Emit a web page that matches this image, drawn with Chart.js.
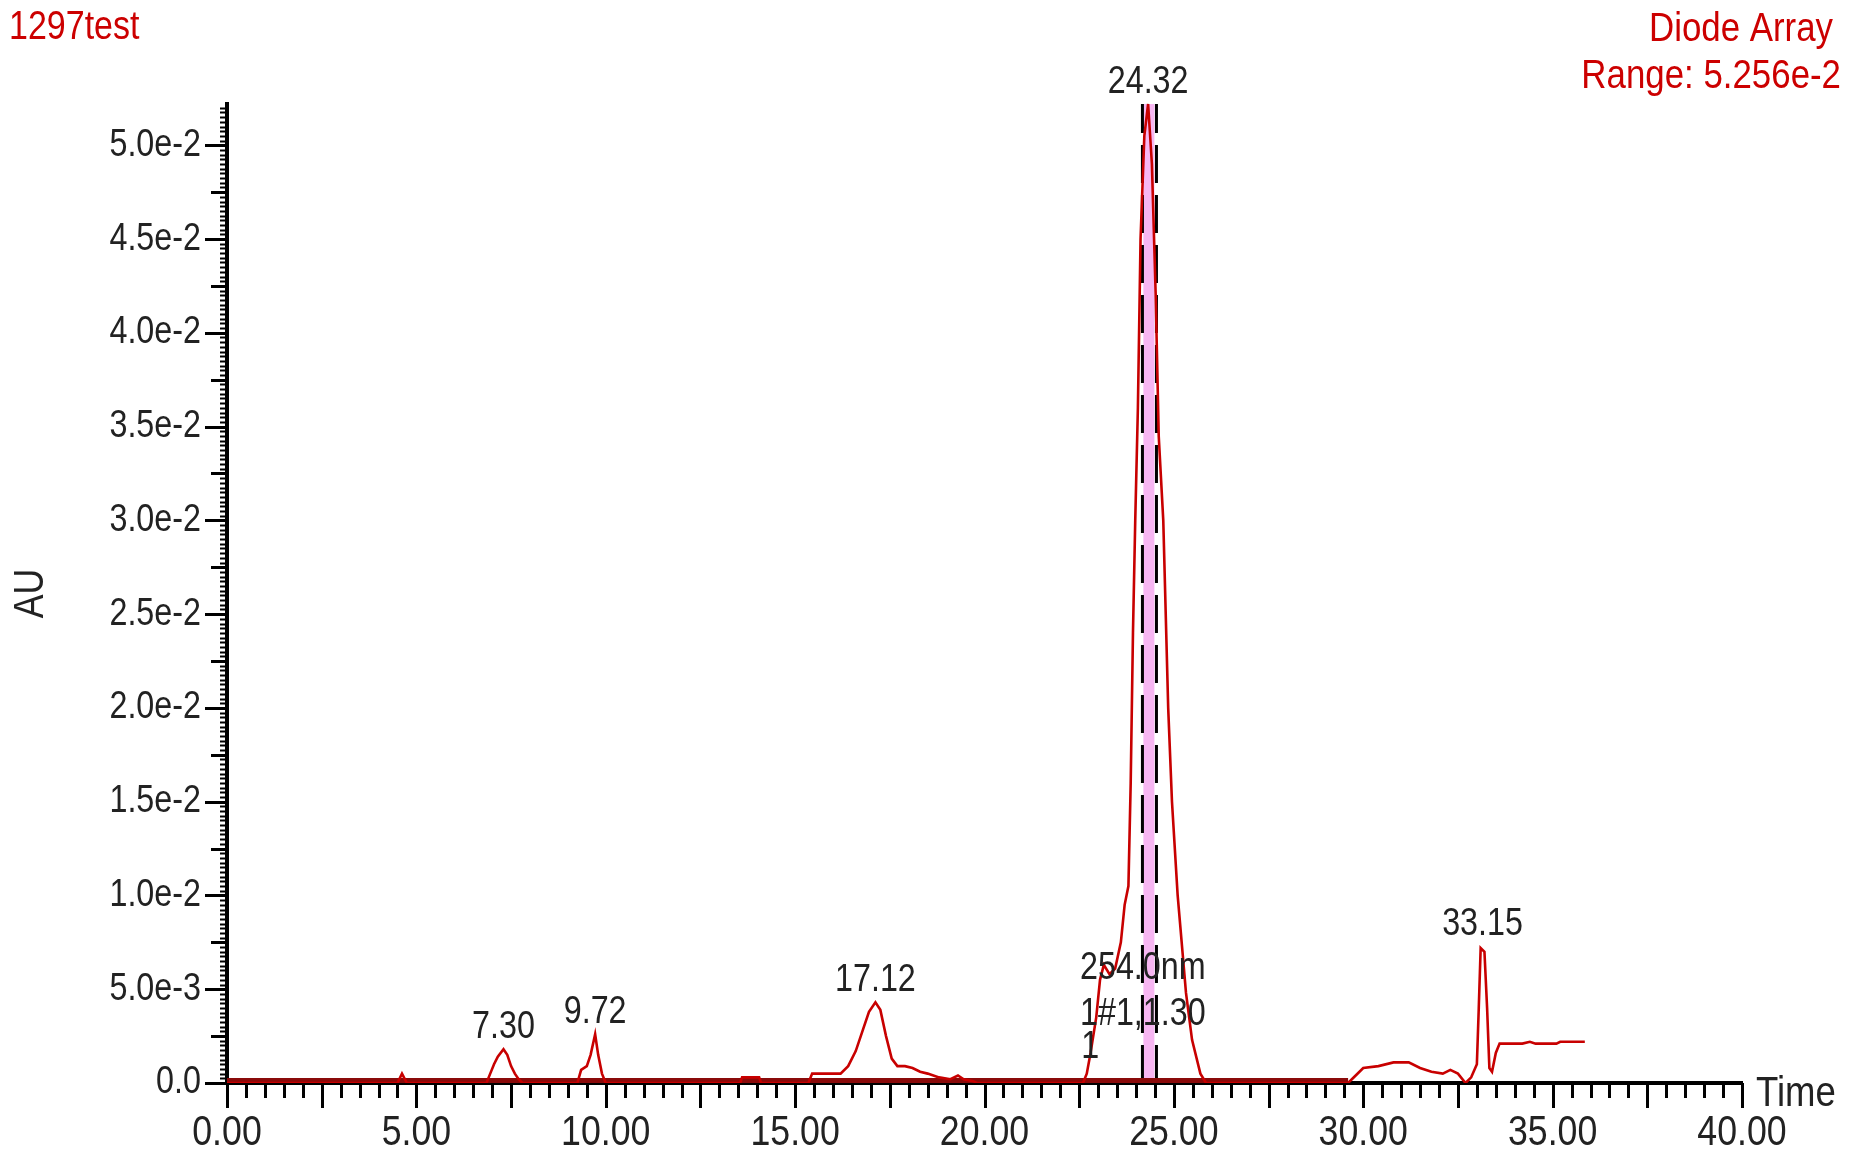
<!DOCTYPE html>
<html>
<head>
<meta charset="utf-8">
<script src="https://cdn.jsdelivr.net/npm/chart.js@4.4.1/dist/chart.umd.min.js"></script>
<style>
  html, body { margin: 0; padding: 0; background: #fff; overflow: hidden; }
  #wrap { width: 1854px; height: 1159px; position: relative; }
</style>
</head>
<body>
<div id="wrap"><canvas id="c"></canvas></div>
<script>
// ---------- data ----------
const times = [
  0.00, 4.50, 4.62, 4.75,
  6.85, 6.95, 7.05, 7.15, 7.30, 7.40, 7.50, 7.60, 7.70, 7.80,
  9.25, 9.35, 9.50, 9.60, 9.72, 9.80, 9.90, 10.00,
  13.55, 13.60, 14.05, 14.10,
  15.35, 15.45, 15.95, 16.20, 16.40, 16.60, 16.80, 16.95, 17.12, 17.25, 17.40, 17.55, 17.70, 17.90,
  18.10, 18.30, 18.50, 18.80, 19.10, 19.30, 19.45, 19.70, 19.80,
  22.60, 22.70, 22.80, 22.95, 23.05, 23.15, 23.30, 23.45, 23.60, 23.70, 23.80, 23.86, 23.92, 23.98,
  24.05, 24.12, 24.22, 24.32, 24.42, 24.52, 24.60, 24.72, 24.85, 24.95, 25.10, 25.32, 25.48, 25.70, 25.85,
  29.60, 29.80, 30.00, 30.40, 30.80, 31.20, 31.50, 31.80, 32.10, 32.30, 32.50, 32.70, 32.85,
  33.00, 33.05, 33.10, 33.20, 33.27, 33.33, 33.40, 33.50, 33.60, 34.20, 34.40, 34.55, 35.10, 35.20, 35.85
];
const absorbance = [
  0, 0, 0.0005, 0,
  0, 0.0005, 0.0010, 0.0014, 0.0018, 0.0015, 0.0009, 0.0005, 0.0002, 0,
  0, 0.0007, 0.0009, 0.0015, 0.0026, 0.0015, 0.0005, 0,
  0, 0.0003, 0.0003, 0,
  0, 0.0005, 0.0005, 0.0005, 0.0009, 0.0017, 0.0029, 0.0038, 0.0043, 0.0039, 0.0025, 0.0013, 0.0009, 0.0009,
  0.0008, 0.0006, 0.0005, 0.0003, 0.0002, 0.0004, 0.0002, 0.0001, 0,
  0, 0.0005, 0.0016, 0.0035, 0.0055, 0.0063, 0.0058, 0.0061, 0.0075, 0.0095, 0.0105, 0.0160, 0.0240, 0.0300,
  0.0360, 0.0450, 0.0505, 0.0522, 0.0490, 0.0420, 0.0345, 0.0300, 0.0200, 0.0150, 0.0100, 0.0048, 0.0023, 0.0005, 0,
  0, 0.0004, 0.0008, 0.0009, 0.0011, 0.0011, 0.0008, 0.0006, 0.0005, 0.0007, 0.0005, 0.0000, 0.0003,
  0.0010, 0.0040, 0.0072, 0.0070, 0.0040, 0.0008, 0.0006, 0.0016, 0.0021, 0.0021, 0.0022, 0.0021, 0.0021, 0.0022, 0.0022
];
// dark baseline drawn under the trace
const baselineTimes = [0.00, 29.60];
const baselineValues = [0, 0];

// peak annotations
const peakTimes = [7.30, 9.72, 17.12, 24.32, 33.15];
const peakValues = [0.0018, 0.0026, 0.0043, 0.0522, 0.0073];
const peakLabels = ['7.30', '9.72', '17.12', '24.32', '33.15'];

// integration markers on main peak
const markerTimes = [24.17, 24.54];
const markerTop = 0.0522;
const bandTime = 24.34;

// overlapping detector notes
const noteTexts = ['254.0nm', '1#1,1.30', '1'];
const noteTimes = [24.18, 24.18, 22.79];
const noteValues = [0.00555, 0.0031, 0.00133];

// axes
const xTickValues = [0, 5, 10, 15, 20, 25, 30, 35, 40];
const xTickLabels = ['0.00', '5.00', '10.00', '15.00', '20.00', '25.00', '30.00', '35.00', '40.00'];
const yTickValues = [0, 0.005, 0.01, 0.015, 0.02, 0.025, 0.03, 0.035, 0.04, 0.045, 0.05];
const yTickLabels = ['0.0', '5.0e-3', '1.0e-2', '1.5e-2', '2.0e-2', '2.5e-2', '3.0e-2', '3.5e-2', '4.0e-2', '4.5e-2', '5.0e-2'];

const titleLeft = '1297test';
const titleRight1 = 'Diode Array';
const titleRight2 = 'Range: 5.256e-2';
const xAxisName = 'Time';
const yAxisName = 'AU';

// ---------- chart ----------
const FONT = "'Liberation Sans', Arial, sans-serif";
const RED = '#cc0000';
const CONDENSE = 0.85;

const canvas = document.getElementById('c');
const ctx2d = canvas.getContext('2d');
// draw all text horizontally condensed around its anchor (the original uses a narrow font)
const origFillText = ctx2d.fillText.bind(ctx2d);
ctx2d.fillText = function (text, x, y, maxWidth) {
  this.save();
  this.translate(x, y);
  this.scale(CONDENSE, 1);
  origFillText(text, 0, 0);
  this.restore();
};

const trace = times.map((t, i) => ({ x: t, y: absorbance[i] }));
const baseline = baselineTimes.map((t, i) => ({ x: t, y: baselineValues[i] }));

const datasets = [
  { label: 'trace', data: trace, borderColor: '#c80000', borderWidth: 2.6, pointRadius: 0, tension: 0, order: 0,
    clip: { left: 2, right: 2, top: 4, bottom: 0 } },
  { label: 'baseline', data: baseline, borderColor: '#8a0a0a', borderWidth: 10, pointRadius: 0, order: 1,
    clip: { left: 0, right: 2, top: 6, bottom: 0 } },
  { label: 'markL', data: [{ x: markerTimes[0], y: 0 }, { x: markerTimes[0], y: markerTop }], borderColor: '#000',
    borderWidth: 3, borderDash: [38, 12], pointRadius: 0, order: 2 },
  { label: 'markR', data: [{ x: markerTimes[1], y: 0 }, { x: markerTimes[1], y: markerTop }], borderColor: '#000',
    borderWidth: 3, borderDash: [38, 12], pointRadius: 0, order: 3 },
  { label: 'band', data: [{ x: bandTime, y: 0 }, { x: bandTime, y: markerTop }], borderColor: '#f7b6f2',
    borderWidth: 11, pointRadius: 0, order: 4 }
];

const deco = {
  id: 'deco',
  beforeDraw(chart) {
    const c = chart.ctx;
    c.save();
    c.fillStyle = '#fff';
    c.fillRect(0, 0, chart.width, chart.height);
    c.restore();
  },
  afterDraw(chart) {
    const c = chart.ctx;
    const x = chart.scales.x, y = chart.scales.y;
    const area = chart.chartArea;
    c.save();
    c.strokeStyle = '#000';
    // x ticks: every 0.5, longer every 2.5
    for (let k = 0; k <= 80; k++) {
      const px = Math.round(x.getPixelForValue(k * 0.5)) + 0.5;
      const len = (k % 5 === 0) ? 25 : 15;
      c.lineWidth = 3;
      c.beginPath(); c.moveTo(px, area.bottom); c.lineTo(px, area.bottom + len); c.stroke();
    }
    // y ticks: every 0.00025, medium every 0.0025, long every 0.005
    for (let k = 0; k * 0.00025 <= y.max + 1e-9; k++) {
      const py = Math.round(y.getPixelForValue(k * 0.00025)) + 0.5;
      let len = 7, w = 2;
      if (k % 20 === 0) { len = 22; w = 3; } else if (k % 10 === 0) { len = 16; w = 3; }
      c.lineWidth = w;
      c.beginPath(); c.moveTo(area.left, py); c.lineTo(area.left - len, py); c.stroke();
    }
    // header texts
    c.fillStyle = RED;
    c.textBaseline = 'alphabetic';
    c.font = '40px ' + FONT;
    c.textAlign = 'left';
    c.fillText(titleLeft, 9, 39);
    c.font = '41px ' + FONT;
    c.textAlign = 'right';
    c.fillText(titleRight1, 1833, 41);
    c.fillText(titleRight2, 1841, 88);
    // x axis name
    c.fillStyle = '#222';
    c.textAlign = 'left';
    c.textBaseline = 'middle';
    c.font = '43px ' + FONT;
    c.fillText(xAxisName, area.right + 14, area.bottom + 11);
    // peak labels
    c.font = '38px ' + FONT;
    c.textAlign = 'center';
    c.textBaseline = 'alphabetic';
    peakTimes.forEach((t, i) => {
      c.fillText(peakLabels[i], x.getPixelForValue(t), y.getPixelForValue(peakValues[i]) - 11);
    });
    // notes
    c.font = '38px ' + FONT;
    noteTexts.forEach((s, i) => {
      c.fillText(s, x.getPixelForValue(noteTimes[i]), y.getPixelForValue(noteValues[i]));
    });
    c.restore();
  }
};

new Chart(canvas, {
  type: 'line',
  data: { datasets },
  options: {
    responsive: true,
    maintainAspectRatio: false,
    animation: false,
    events: [],
    layout: { padding: { top: 104, right: 112, left: 0, bottom: 0 } },
    plugins: { legend: { display: false }, tooltip: { enabled: false }, title: { display: false } },
    scales: {
      x: {
        type: 'linear', min: 0, max: 40, position: 'bottom', z: 1,
        grid: { display: false, drawTicks: false },
        border: { display: true, color: '#000', width: 4 },
        ticks: { font: { family: FONT, size: 42 }, color: '#222', padding: 25, maxRotation: 0, autoSkip: false,
                 callback: (v, i) => xTickLabels[i] },
        afterBuildTicks: s => { s.ticks = xTickValues.map(v => ({ value: v })); },
        afterFit: s => { s.height = 76; }
      },
      y: {
        type: 'linear', min: 0, max: 0.0522, position: 'left', z: 1,
        grid: { display: false, drawTicks: false },
        border: { display: true, color: '#000', width: 4 },
        title: { display: true, text: yAxisName, color: '#222', font: { family: FONT, size: 42 }, padding: 6 },
        ticks: { font: { family: FONT, size: 38 }, color: '#222', padding: 26, autoSkip: false, includeBounds: false,
                 callback: (v, i) => yTickLabels[i] },
        afterBuildTicks: s => { s.ticks = yTickValues.map(v => ({ value: v })); },
        afterFit: s => { s.width = 227; }
      }
    }
  },
  plugins: [deco]
});
</script>
</body>
</html>
